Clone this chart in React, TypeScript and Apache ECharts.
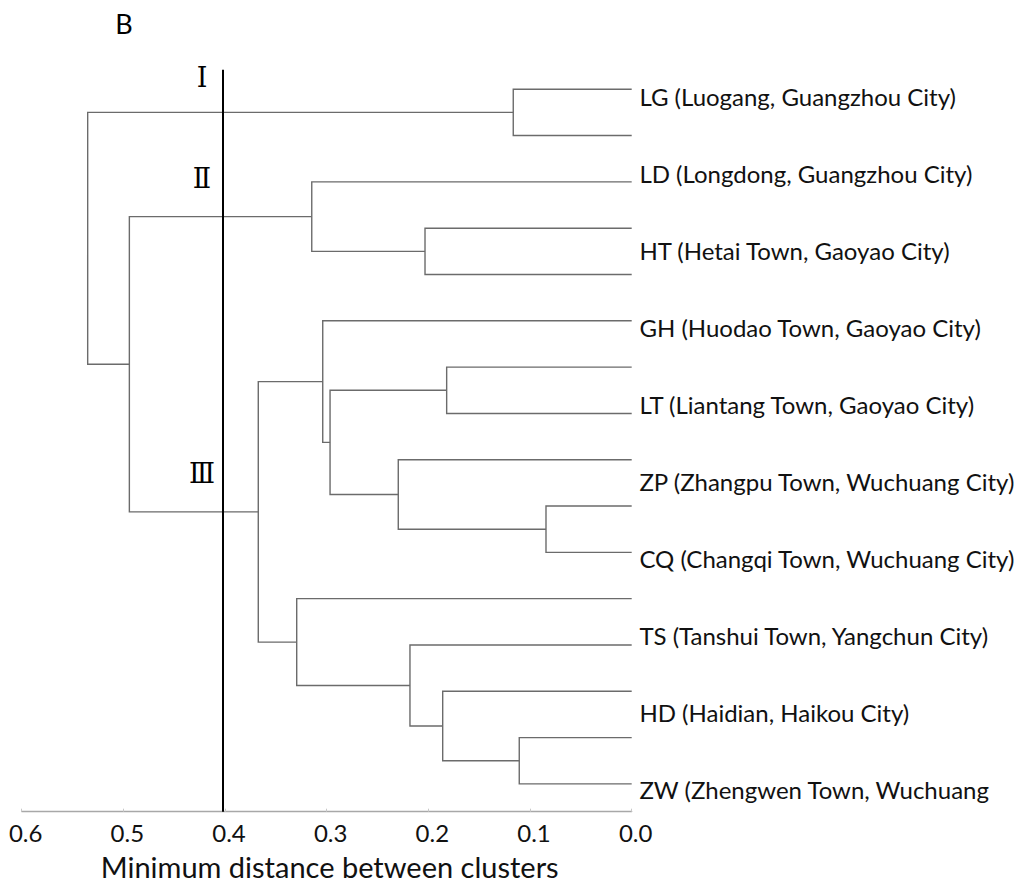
import React, { useEffect, useRef } from "react";
import * as echarts from "echarts";

// Leaf labels (shown on the right, as in the reference)
const leafLabels = [
  "LG (Luogang, Guangzhou City)",
  "LD (Longdong, Guangzhou City)",
  "HT (Hetai Town, Gaoyao City)",
  "GH (Huodao Town, Gaoyao City)",
  "LT (Liantang Town, Gaoyao City)",
  "ZP (Zhangpu Town, Wuchuang City)",
  "CQ (Changqi Town, Wuchuang City)",
  "TS (Tanshui Town, Yangchun City)",
  "HD (Haidian, Haikou City)",
  "ZW (Zhengwen Town, Wuchuang",
];

// Dendrogram linkage: 16 leaves (ids 0..15), merges get ids 16, 17, ...
const leafCount = 16;
const mergeLeft = [0, 3, 2, 6, 9, 8, 19, 5, 14, 13, 12, 11, 23, 18, 16];
const mergeRight = [1, 4, 17, 7, 10, 20, 21, 22, 15, 24, 25, 26, 27, 28, 29];
const mergeHeight = [
  0.1165, 0.2033, 0.3147, 0.182, 0.0843, 0.2296, 0.2967, 0.3039, 0.1106,
  0.1859, 0.2181, 0.3295, 0.3673, 0.4941, 0.5351,
];

// Cut-off line and axis ticks
const cutDistance = 0.402;
const xTicks = [0.6, 0.5, 0.4, 0.3, 0.2, 0.1, 0.0];
const clusterNames = ["Ⅰ", "Ⅱ", "Ⅲ"];

const FONT = "Lato, 'Open Sans', sans-serif";
const SERIF = "'DejaVu Serif', 'Liberation Serif', serif";

function buildSegments() {
  const nodeY: number[] = [];
  const nodeH: number[] = [];
  for (let i = 0; i < leafCount; i++) {
    nodeY.push(i);
    nodeH.push(0);
  }
  const segs: any[] = [];
  for (let k = 0; k < mergeLeft.length; k++) {
    const a = mergeLeft[k];
    const b = mergeRight[k];
    const h = mergeHeight[k];
    segs.push({
      coords: [
        [nodeH[a], nodeY[a]],
        [h, nodeY[a]],
        [h, nodeY[b]],
        [nodeH[b], nodeY[b]],
      ],
    });
    nodeY.push((nodeY[a] + nodeY[b]) / 2);
    nodeH.push(h);
  }
  return segs;
}

export default function App() {
  const ref = useRef<HTMLDivElement>(null);
  useEffect(() => {
    if (!ref.current) return;
    const chart = echarts.init(ref.current, null, { renderer: "svg" });
    const segs = buildSegments();
    const yMin = -0.5;
    const yMax = 15.6;
    chart.setOption({
      animation: false,
      backgroundColor: "#ffffff",
      grid: [
        { left: 21.7, right: 387.3, top: 66.1, bottom: 74.3 },
        { left: 630, width: 4, top: 58.2, height: 770.3 },
      ],
      xAxis: [
        {
          type: "value",
          gridIndex: 0,
          position: "bottom",
          inverse: true,
          min: 0,
          max: 0.6,
          interval: 0.1,
          splitLine: { show: false },
          axisLine: { show: true, onZero: false, lineStyle: { color: "#a8a8a8", width: 1.3 } },
          axisTick: { show: true, inside: true, length: 3, lineStyle: { color: "#c8c8c8" } },
          axisLabel: {
            margin: 9,
            fontFamily: FONT,
            fontSize: 24,
            color: "#111",
            padding: [0, 0, 0, 8],
            formatter: (v: number) => {
              const t = xTicks.find((x) => Math.abs(x - v) < 1e-6);
              return t === undefined ? "" : t.toFixed(1);
            },
          },
          name: "Minimum distance between clusters",
          nameLocation: "middle",
          nameGap: 40,
          nameTextStyle: { fontFamily: FONT, fontSize: 29, color: "#111", padding: [0, 0, 0, 6] },
        },
        { type: "value", gridIndex: 1, show: false },
      ],
      yAxis: [
        { type: "value", gridIndex: 0, inverse: true, min: yMin, max: yMax, show: false },
        {
          type: "category",
          gridIndex: 1,
          inverse: true,
          position: "right",
          data: leafLabels,
          axisLine: { show: false },
          axisTick: { show: false },
          axisLabel: { margin: 8, fontFamily: FONT, fontSize: 24, color: "#111" },
        },
      ],
      series: [
        {
          type: "lines",
          coordinateSystem: "cartesian2d",
          xAxisIndex: 0,
          yAxisIndex: 0,
          polyline: true,
          silent: true,
          lineStyle: { color: "#6b6b6b", width: 1.4, opacity: 1 },
          data: segs,
        },
        {
          type: "line",
          xAxisIndex: 0,
          yAxisIndex: 0,
          symbol: "none",
          silent: true,
          lineStyle: { color: "#000", width: 2 },
          data: [
            [cutDistance, -0.42],
            [cutDistance, yMax],
          ],
        },
      ],
      graphic: [
        {
          type: "text",
          x: 124,
          y: 23,
          style: { text: "B", fontFamily: FONT, fontSize: 27, fill: "#000", align: "center", verticalAlign: "middle" },
        },
        {
          type: "text",
          x: 202,
          y: 77,
          style: { text: clusterNames[0], fontFamily: SERIF, fontSize: 27, fill: "#000", align: "center", verticalAlign: "middle" },
        },
        {
          type: "text",
          x: 202,
          y: 178,
          style: { text: clusterNames[1], fontFamily: SERIF, fontSize: 27, fill: "#000", align: "center", verticalAlign: "middle" },
        },
        {
          type: "text",
          x: 202,
          y: 473,
          style: { text: clusterNames[2], fontFamily: SERIF, fontSize: 27, fill: "#000", align: "center", verticalAlign: "middle" },
        },
      ],
    });
    return () => chart.dispose();
  }, []);
  return (
    <div
      ref={ref}
      style={{ position: "fixed", left: 0, top: 0, width: 1019, height: 886, background: "#fff" }}
    />
  );
}
